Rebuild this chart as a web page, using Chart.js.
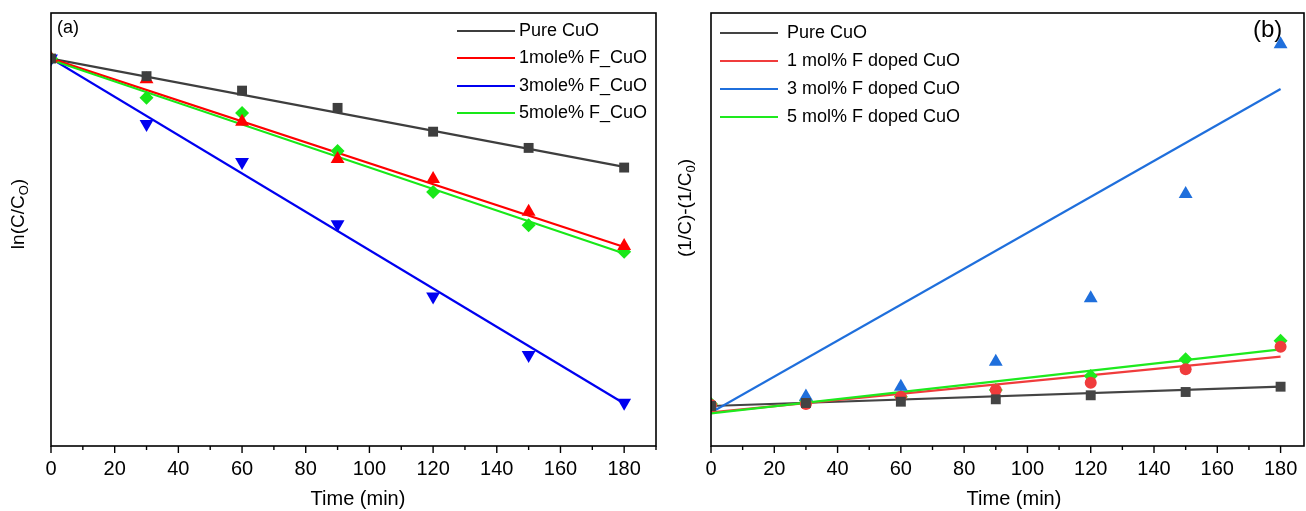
<!DOCTYPE html>
<html>
<head>
<meta charset="utf-8">
<script src="https://cdn.jsdelivr.net/npm/chart.js@4.4.1/dist/chart.umd.min.js"></script>
<style>
  html, body { margin: 0; padding: 0; background: #fff; }
  #wrap { position: relative; width: 1306px; height: 511px; overflow: hidden; }
  #ca { position: absolute; left: 0; top: 0; }
  #cb { position: absolute; left: 660px; top: 0; }
</style>
</head>
<body>
<div id="wrap">
  <canvas id="ca" width="660" height="511"></canvas>
  <canvas id="cb" width="646" height="511"></canvas>
</div>
<script>
// ---------- DATA ----------
const timeMin = [0, 30, 60, 90, 120, 150, 180];
const fitTime = [0, 180];

// Panel (a): ln(C/C0)
const namesA = ['Pure CuO', '1mole% F_CuO', '3mole% F_CuO', '5mole% F_CuO'];
const lnPure = [0, -0.051, -0.093, -0.143, -0.212, -0.259, -0.316];
const ln1 = [0, -0.060, -0.183, -0.291, -0.349, -0.444, -0.543];
const ln3 = [0, -0.190, -0.300, -0.480, -0.690, -0.859, -0.998];
const ln5 = [0, -0.114, -0.158, -0.268, -0.387, -0.483, -0.560];
const fitLnPure = [0, -0.314];
const fitLn1 = [0, -0.546];
const fitLn3 = [0, -1.000];
const fitLn5 = [-0.004, -0.565];

// Panel (b): (1/C)-(1/C0)
const namesB = ['Pure CuO', '1 mol% F doped CuO', '3 mol% F doped CuO', '5 mol% F doped CuO'];
const invPure = [0, 0.030, 0.043, 0.067, 0.107, 0.140, 0.193];
const inv1 = [0.010, 0.020, 0.093, 0.160, 0.233, 0.367, 0.593];
const inv3 = [0, 0.095, 0.193, 0.443, 1.077, 2.120, 3.617];
const inv5 = [0.020, 0.053, 0.093, 0.160, 0.300, 0.467, 0.653];
const fitInvPure = [0, 0.193];
const fitInv1 = [-0.063, 0.493];
const fitInv3 = [-0.065, 3.170];
const fitInv5 = [-0.073, 0.567];

const xTickLabels = [0, 20, 40, 60, 80, 100, 120, 140, 160, 180];
const xTitle = 'Time (min)';

// ---------- HELPERS ----------
const FONT = "'Liberation Sans', Arial, Helvetica, sans-serif";
const pts = (xs, ys) => xs.map((x, i) => ({ x: x, y: ys[i] }));

function markerSet(label, ys, color, style, radius, rotation) {
  return {
    label: label, data: pts(timeMin, ys), showLine: false,
    pointStyle: style, pointRadius: radius, pointRotation: rotation || 0,
    pointBackgroundColor: color, pointBorderColor: color, pointBorderWidth: 0,
    backgroundColor: color, borderColor: color, isMarker: true
  };
}
function fitSet(label, ys, color, width) {
  return {
    label: label, data: pts(fitTime, ys), showLine: true, pointRadius: 0,
    borderColor: color, backgroundColor: color, borderWidth: width, fill: false,
    isFit: true
  };
}

const decorPlugin = {
  id: 'decor',
  afterDraw(chart) {
    const o = chart.options.plugins.decor;
    const ctx = chart.ctx;
    const a = chart.chartArea;
    const xs = chart.scales.x;
    ctx.save();
    // frame
    ctx.strokeStyle = '#000';
    ctx.lineWidth = 1.6;
    ctx.strokeRect(a.left, a.top, a.right - a.left, a.bottom - a.top);
    // ticks
    ctx.lineWidth = 1.4;
    xs.ticks.forEach(t => {
      const px = xs.getPixelForValue(t.value);
      const major = xTickLabels.includes(t.value);
      ctx.beginPath();
      ctx.moveTo(px, a.bottom);
      ctx.lineTo(px, a.bottom + (major ? 7 : 4));
      ctx.stroke();
    });
    // x title
    ctx.fillStyle = '#000';
    ctx.textBaseline = 'middle';
    ctx.textAlign = 'center';
    ctx.font = '20px ' + FONT;
    ctx.fillText(xTitle, o.xTitleX, 499);
    // panel label
    ctx.textAlign = 'left';
    ctx.font = o.panelFont + 'px ' + FONT;
    ctx.fillText(o.panel, o.panelX, o.panelY);
    // y title with subscript (rotated)
    ctx.save();
    ctx.translate(o.yTitleX, o.yTitleY);
    ctx.rotate(-Math.PI / 2);
    const fMain = o.yFont + 'px ' + FONT;
    const fSub = Math.round(o.yFont * 0.7) + 'px ' + FONT;
    ctx.font = fMain;
    const w1 = ctx.measureText(o.yPre).width;
    const w3 = ctx.measureText(o.yPost).width;
    ctx.font = fSub;
    const w2 = ctx.measureText(o.ySub).width;
    let sx = -(w1 + w2 + w3) / 2;
    ctx.font = fMain;
    ctx.fillText(o.yPre, sx, 0);
    ctx.font = fSub;
    ctx.fillText(o.ySub, sx + w1, o.yFont * 0.3);
    ctx.font = fMain;
    ctx.fillText(o.yPost, sx + w1 + w2, 0);
    ctx.restore();
    // legend
    ctx.font = o.legFont + 'px ' + FONT;
    ctx.textBaseline = 'middle';
    const fits = chart.data.datasets.filter(d => d.isFit);
    o.legendOrder.forEach((lbl, i) => {
      const ds = fits.find(d => d.label === lbl);
      const y = o.legRows[i];
      ctx.strokeStyle = ds.borderColor;
      ctx.lineWidth = o.legLineW;
      ctx.beginPath();
      ctx.moveTo(o.legX0, y);
      ctx.lineTo(o.legX1, y);
      ctx.stroke();
      ctx.fillStyle = '#000';
      ctx.fillText(lbl, o.legTextX, y);
    });
    ctx.restore();
  }
};

function makeOptions(xMax, yMin, yMax, rightPad, decor) {
  return {
    responsive: false,
    animation: false,
    events: [],
    layout: { autoPadding: false, padding: { left: 0, right: rightPad, top: 13, bottom: 0 } },
    plugins: { legend: { display: false }, tooltip: { enabled: false }, decor: decor },
    scales: {
      x: {
        type: 'linear', position: 'bottom', min: 0, max: xMax,
        afterFit: s => { s.height = 65; s.paddingLeft = 0; s.paddingRight = 0; },
        grid: { display: false, drawTicks: false },
        border: { display: false },
        ticks: {
          stepSize: 10, autoSkip: false, maxRotation: 0, includeBounds: false,
          padding: 11, color: '#000', font: { size: 20, family: FONT },
          callback: v => (xTickLabels.includes(v) ? String(v) : '')
        },
        title: { display: false }
      },
      y: {
        type: 'linear', min: yMin, max: yMax,
        afterFit: s => { s.width = 51; s.paddingTop = 0; s.paddingBottom = 0; },
        grid: { display: false, drawTicks: false },
        border: { display: false },
        ticks: { display: false }
      }
    }
  };
}

// ---------- PANEL (a) ----------
const cA = { gray: '#3e3e3e', red: '#ff0000', blue: '#0000f0', green: '#18e818' };
new Chart(document.getElementById('ca'), {
  type: 'scatter',
  data: {
    datasets: [
      markerSet(namesA[0], lnPure, cA.gray, 'rect', 7),
      markerSet(namesA[1], ln1, cA.red, 'triangle', 8),
      markerSet(namesA[2], ln3, cA.blue, 'triangle', 8, 180),
      markerSet(namesA[3], ln5, cA.green, 'rectRot', 7),
      fitSet(namesA[3], fitLn5, cA.green, 2.2),
      fitSet(namesA[1], fitLn1, cA.red, 2.2),
      fitSet(namesA[2], fitLn3, cA.blue, 2.2),
      fitSet(namesA[0], fitLnPure, cA.gray, 2.2)
    ]
  },
  options: makeOptions(190, -1.123, 0.132, 4, {
    panel: '(a)', panelFont: 18, panelX: 57, panelY: 28, xTitleX: 358,
    yPre: 'ln(C/C', ySub: 'O', yPost: ')', yFont: 19, yTitleX: 19, yTitleY: 214,
    legendOrder: namesA, legFont: 18, legRows: [31, 58, 86, 113],
    legX0: 457, legX1: 515, legTextX: 519, legLineW: 2.2
  }),
  plugins: [decorPlugin]
});

// ---------- PANEL (b) ----------
const cB = { gray: '#444444', red: '#f03c3c', blue: '#1f6fdc', green: '#1eea1e' };
new Chart(document.getElementById('cb'), {
  type: 'scatter',
  data: {
    datasets: [
      markerSet(namesB[0], invPure, cB.gray, 'rect', 7),
      markerSet(namesB[1], inv1, cB.red, 'circle', 6),
      markerSet(namesB[2], inv3, cB.blue, 'triangle', 8),
      markerSet(namesB[3], inv5, cB.green, 'rectRot', 7),
      fitSet(namesB[3], fitInv5, cB.green, 2.2),
      fitSet(namesB[1], fitInv1, cB.red, 2.2),
      fitSet(namesB[2], fitInv3, cB.blue, 2.2),
      fitSet(namesB[0], fitInvPure, cB.gray, 2.2)
    ]
  },
  options: makeOptions(187.4, -0.40, 3.93, 2, {
    panel: '(b)', panelFont: 24, panelX: 593, panelY: 30, xTitleX: 354,
    yPre: '(1/C)-(1/C', ySub: '0', yPost: ')', yFont: 19, yTitleX: 26, yTitleY: 208,
    legendOrder: namesB, legFont: 18, legRows: [33, 61, 89, 117],
    legX0: 60, legX1: 118, legTextX: 127, legLineW: 2
  }),
  plugins: [decorPlugin]
});
</script>
</body>
</html>
